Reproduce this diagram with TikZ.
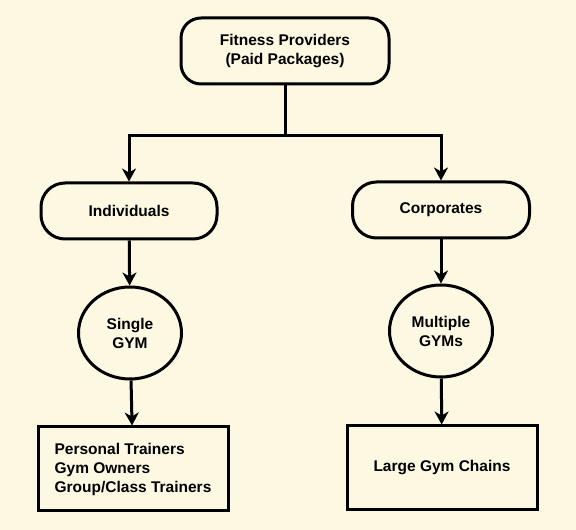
\documentclass[tikz,border=0pt]{standalone}
\usepackage{fontspec}
\setmainfont{Liberation Sans}
\usetikzlibrary{arrows.meta,shapes.geometric}
\definecolor{paper}{RGB}{252,248,226}
\begin{document}
\begin{tikzpicture}[x=1pt,y=1pt,
	every node/.style={font=\fontsize{15.5}{19}\selectfont\bfseries,line width=3pt,draw=black,fill=paper,align=center},
	pill/.style={rounded corners=24pt,minimum height=56pt},
	oval/.style={ellipse,minimum width=103pt,minimum height=92pt,inner sep=0pt},
	listbox/.style={rectangle,minimum width=190pt,minimum height=84pt},
	arr/.style={line width=3pt,-{Stealth[length=13pt,width=14pt,inset=4pt]}},
	ln/.style={line width=3pt}]
		\fill[paper](0,0) rectangle (576,530);
		\useasboundingbox (0,0) rectangle (576,530);
		\node[pill,rounded corners=20pt,minimum width=208pt,minimum height=66pt](top) at (285,479){Fitness Providers\\(Paid Packages)};
		\node[pill,minimum width=176pt](indiv) at (129,319){Individuals};
		\node[pill,minimum width=177pt](corp) at (441,320){Corporates};
		\node[oval](single) at (130,197){Single\\GYM};
		\node[oval](multi) at (441,199){Multiple\\GYMs};
		\node[listbox,align=left](trainers) at (133,61){Personal Trainers\\Gym Owners\\Group/Class Trainers};
		\node[listbox](chains) at (442,62){Large Gym Chains};
		\coordinate (split) at (285,394);
		\draw[ln](top)--(split);
		\draw[arr](split)-|(indiv);
		\draw[arr](split)-|(corp);
		\draw[arr](indiv)--(single);
		\draw[arr](corp)--(multi);
		\draw[arr](single)--(trainers);
		\draw[arr](multi)--(chains);
	\end{tikzpicture}
\end{document}
